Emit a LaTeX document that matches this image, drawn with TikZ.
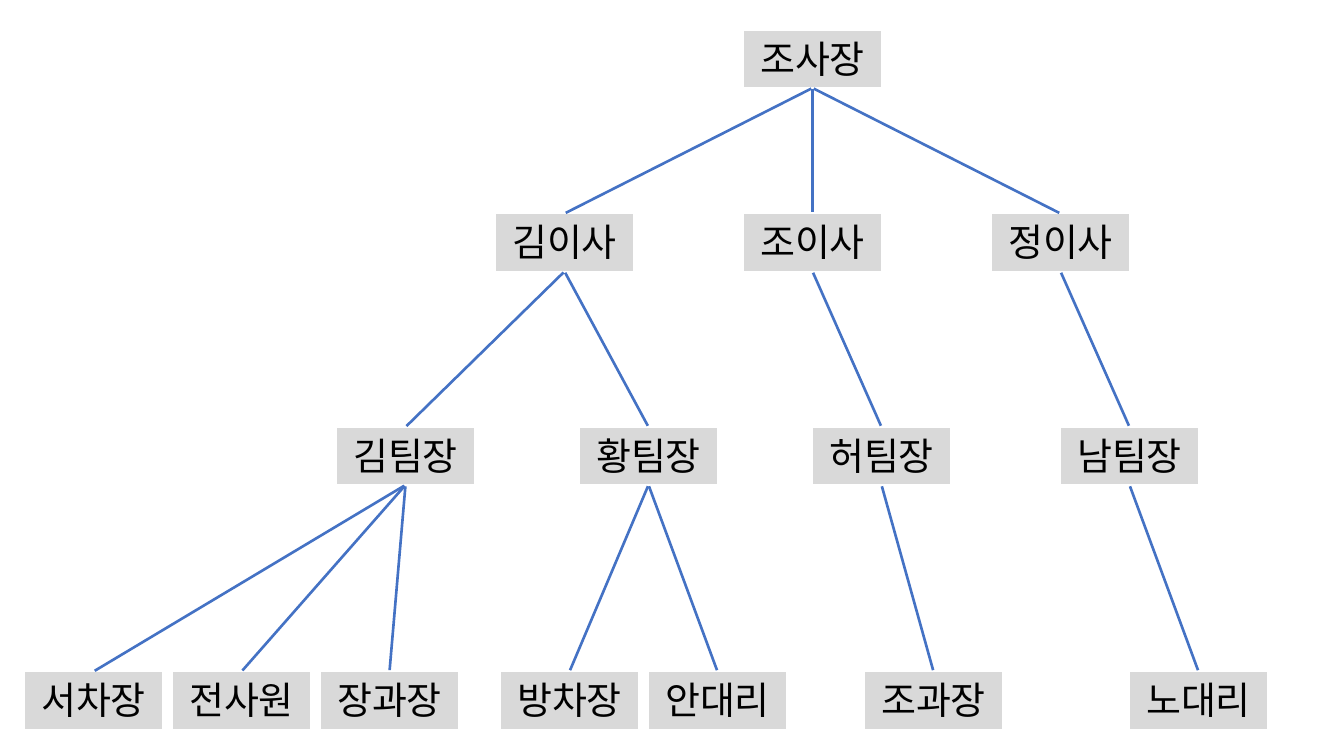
\documentclass[tikz,border=0pt]{standalone}
\usepackage{fontspec}
\newfontfamily\kofont{Noto Sans CJK KR}

\definecolor{boxgray}{HTML}{D9D9D9}
\definecolor{linkblue}{HTML}{4472C4}

\tikzset{
  orgnode/.style = {fill=boxgray, minimum width=1.37cm, minimum height=0.565cm,
    inner sep=0pt, font=\kofont\fontsize{10.8}{13}\selectfont},% boite grise
  orglink/.style = {linkblue, line width=0.75pt, shorten <=0.4pt, shorten >=0.4pt}% trait bleu
}

\begin{document}
\begin{tikzpicture}[x=0.01cm, y=-0.01cm]
        \useasboundingbox (0,0) rectangle (1323,749);
        % niveau 0
        \node [orgnode] (josajang) at (812.5,59) {조사장};
        % niveau 1
        \node [orgnode] (kimisa) at (564.5,242.5) {김이사};
        \node [orgnode] (joisa) at (812.5,242.5) {조이사};
        \node [orgnode] (jeongisa) at (1060.5,242.5) {정이사};
        % niveau 2
        \node [orgnode] (kimtim) at (405.5,456) {김팀장};
        \node [orgnode] (hwangtim) at (648.5,456) {황팀장};
        \node [orgnode] (heotim) at (881.5,456) {허팀장};
        \node [orgnode] (namtim) at (1129.5,456) {남팀장};
        % niveau 3
        \node [orgnode] (seochajang) at (93.5,700.5) {서차장};
        \node [orgnode] (jeonsawon) at (241.5,700.5) {전사원};
        \node [orgnode] (janggwajang) at (389.5,700.5) {장과장};
        \node [orgnode] (bangchajang) at (569.5,700.5) {방차장};
        \node [orgnode] (andaeri) at (717.5,700.5) {안대리};
        \node [orgnode] (jogwajang) at (933.5,700.5) {조과장};
        \node [orgnode] (nodaeri) at (1198.5,700.5) {노대리};

        \foreach \a/\b in {josajang/kimisa, josajang/joisa, josajang/jeongisa,
            kimisa/kimtim, kimisa/hwangtim, joisa/heotim, jeongisa/namtim,
            kimtim/seochajang, kimtim/jeonsawon, kimtim/janggwajang,
            hwangtim/bangchajang, hwangtim/andaeri,
            heotim/jogwajang, namtim/nodaeri}
          \draw [orglink] (\a.south) -- (\b.north);
      \end{tikzpicture}
\end{document}
